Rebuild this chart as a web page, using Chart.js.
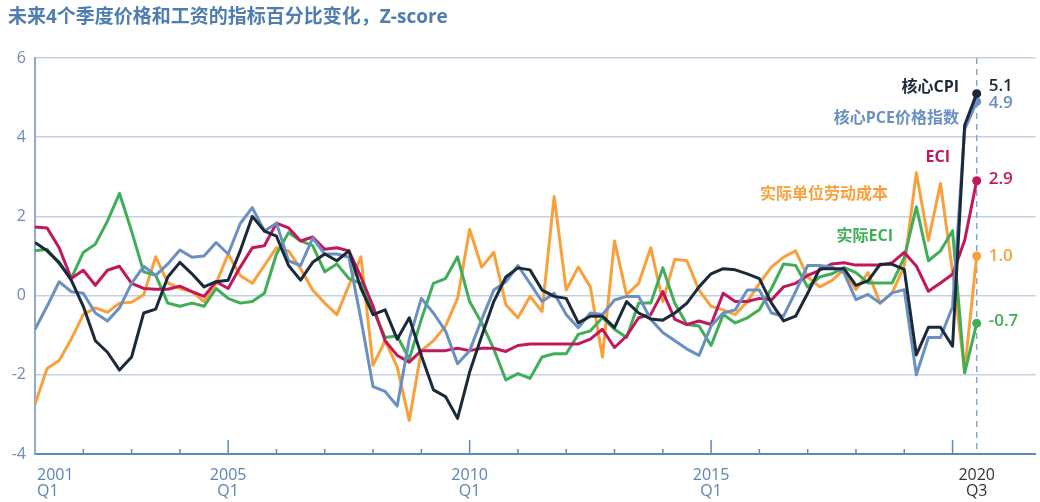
<!DOCTYPE html>
<html><head><meta charset="utf-8">
<script src="https://cdn.jsdelivr.net/npm/chart.js@4.4.0/dist/chart.umd.min.js"></script>
<style>html,body{margin:0;padding:0;background:#fff;}#wrap{width:1040px;height:502px;position:relative;}</style>
</head><body><div id="wrap"><canvas id="c"></canvas></div>
<script>
const quarters = ['2001Q1','2001Q2','2001Q3','2001Q4','2002Q1','2002Q2','2002Q3','2002Q4','2003Q1','2003Q2','2003Q3','2003Q4','2004Q1','2004Q2','2004Q3','2004Q4','2005Q1','2005Q2','2005Q3','2005Q4','2006Q1','2006Q2','2006Q3','2006Q4','2007Q1','2007Q2','2007Q3','2007Q4','2008Q1','2008Q2','2008Q3','2008Q4','2009Q1','2009Q2','2009Q3','2009Q4','2010Q1','2010Q2','2010Q3','2010Q4','2011Q1','2011Q2','2011Q3','2011Q4','2012Q1','2012Q2','2012Q3','2012Q4','2013Q1','2013Q2','2013Q3','2013Q4','2014Q1','2014Q2','2014Q3','2014Q4','2015Q1','2015Q2','2015Q3','2015Q4','2016Q1','2016Q2','2016Q3','2016Q4','2017Q1','2017Q2','2017Q3','2017Q4','2018Q1','2018Q2','2018Q3','2018Q4','2019Q1','2019Q2','2019Q3','2019Q4','2020Q1','2020Q2','2020Q3'];

const coreCPI = [1.34,1.13,0.84,0.39,-0.27,-1.14,-1.43,-1.88,-1.55,-0.44,-0.34,0.47,0.84,0.55,0.22,0.35,0.39,1.13,2.0,1.63,1.5,0.76,0.39,0.84,1.05,0.88,1.13,0.18,-0.48,-0.36,-1.1,-0.56,-1.51,-2.38,-2.55,-3.1,-1.93,-1.02,-0.15,0.47,0.7,0.65,0.14,-0.02,-0.07,-0.69,-0.52,-0.52,-0.81,-0.15,-0.44,-0.59,-0.62,-0.44,-0.19,0.22,0.55,0.68,0.65,0.55,0.43,-0.19,-0.64,-0.52,0.06,0.68,0.68,0.68,0.26,0.37,0.79,0.79,0.66,-1.5,-0.8,-0.8,-1.28,4.3,5.1];
const corePCE = [-0.85,-0.27,0.35,0.1,0.06,-0.44,-0.64,-0.31,0.31,0.74,0.51,0.8,1.15,0.97,1.0,1.34,1.05,1.82,2.22,1.63,1.83,0.88,0.76,1.45,1.05,1.05,0.97,-0.6,-2.3,-2.42,-2.79,-1.1,-0.07,-0.44,-0.89,-1.72,-1.39,-0.6,0.14,0.35,0.76,0.31,-0.15,0.06,-0.48,-0.81,-0.44,-0.48,-0.11,-0.02,-0.02,-0.6,-0.93,-1.14,-1.35,-1.51,-0.77,-0.44,-0.36,0.14,0.14,-0.44,-0.52,0.1,0.76,0.76,0.72,0.58,-0.1,0.03,-0.19,0.07,0.15,-2.0,-1.06,-1.06,-0.28,4.2,4.9];
const eci = [1.73,1.71,1.21,0.43,0.64,0.26,0.64,0.74,0.31,0.18,0.16,0.16,0.24,0.1,-0.02,0.35,0.18,0.72,1.21,1.26,1.83,1.71,1.38,1.48,1.17,1.21,1.13,0.47,-0.27,-1.14,-1.51,-1.68,-1.39,-1.39,-1.39,-1.33,-1.39,-1.33,-1.33,-1.41,-1.26,-1.22,-1.22,-1.22,-1.22,-1.22,-1.1,-0.85,-1.31,-1.02,-0.56,-0.48,0.1,-0.6,-0.73,-0.64,-0.73,0.06,-0.15,-0.15,-0.07,-0.11,0.22,0.31,0.51,0.64,0.8,0.83,0.77,0.77,0.77,0.83,1.09,0.75,0.11,0.32,0.54,1.39,2.9];
const realECI = [1.13,1.17,0.8,0.43,1.09,1.3,1.88,2.58,1.63,0.6,0.51,-0.19,-0.27,-0.19,-0.27,0.18,-0.07,-0.19,-0.15,0.06,1.05,1.59,1.38,1.26,0.6,0.8,0.43,0.31,-0.36,-1.06,-1.02,-1.6,-0.6,0.31,0.43,0.98,-0.15,-0.69,-1.35,-2.13,-1.97,-2.09,-1.55,-1.47,-1.47,-0.98,-0.89,-0.56,-0.85,-1.06,-0.19,-0.19,0.7,-0.2,-0.73,-0.77,-1.26,-0.48,-0.69,-0.56,-0.36,0.18,0.8,0.76,0.22,0.47,0.55,0.71,0.58,0.32,0.32,0.32,0.96,2.24,0.88,1.13,1.64,-1.95,-0.7];
const realULC = [-2.75,-1.84,-1.64,-1.1,-0.48,-0.31,-0.42,-0.19,-0.17,0.02,0.98,0.32,0.18,0.1,-0.15,0.31,1.05,0.51,0.31,0.76,1.21,1.13,0.68,0.14,-0.19,-0.48,0.26,0.98,-1.76,-1.14,-1.8,-3.15,-1.39,-1.14,-0.77,-0.07,1.67,0.72,1.09,-0.23,-0.56,-0.02,-0.4,2.5,0.14,0.72,0.22,-1.55,1.38,0.02,0.31,1.21,-0.15,0.92,0.88,0.14,-0.27,-0.36,-0.48,-0.15,0.31,0.72,0.97,1.13,0.47,0.22,0.38,0.66,0.15,0.58,-0.19,0.07,0.75,3.1,1.39,2.83,0.6,-1.9,1.0];

const seriesNames = ['核心CPI','核心PCE价格指数','ECI','实际ECI','实际单位劳动成本'];
const yTicks = [-4,-2,0,2,4,6];
const xTickIndex = [0,16,36,56,78];
const xTickYear = ['2001','2005','2010','2015','2020'];
const xTickQuarter = ['Q1','Q1','Q1','Q1','Q3'];
const endLabels = ['5.1','4.9','2.9','-0.7','1.0'];
const titleText = '未来4个季度价格和工资的指标百分比变化，Z-score';

const COLORS = ['#1b2a3a','#6a90c1','#c2185b','#3fae57','#f9a03c'];
const FONT = "'Open Sans','Noto Sans CJK SC',sans-serif";
const last = quarters.length - 1;

const allSeries = [coreCPI, corePCE, eci, realECI, realULC];
const datasets = allSeries.map((arr, k) => ({
  label: seriesNames[k],
  data: arr.map((v, i) => ({x: i, y: v})),
  borderColor: COLORS[k],
  backgroundColor: COLORS[k],
  borderWidth: 3,
  tension: 0,
  borderJoinStyle: 'round',
  pointRadius: ctx => ctx.dataIndex === last ? 4.5 : 0,
  pointBorderWidth: 0,
  pointHoverRadius: 0
}));

const nameLabelPos = [
  {x: 959, y: 87, align: 'right'},
  {x: 959, y: 118, align: 'right'},
  {x: 950, y: 157, align: 'right'},
  {x: 893, y: 236, align: 'right'},
  {x: 888, y: 194, align: 'right'}
];
const endLabelDy = [-7, 2, -2, -2, 0];

const overlay = {
  id: 'overlay',
  beforeDatasetsDraw(chart) {
    const {ctx, chartArea, scales: {x}} = chart;
    ctx.save();
    const px = x.getPixelForValue(last);
    ctx.strokeStyle = '#86a6c9';
    ctx.lineWidth = 1.5;
    ctx.setLineDash([6, 5]);
    ctx.beginPath();
    ctx.moveTo(px, chartArea.top);
    ctx.lineTo(px, chartArea.bottom);
    ctx.stroke();
    ctx.setLineDash([]);
    ctx.strokeStyle = '#5f8ab8';
    ctx.lineWidth = 1.5;
    for (let q = 4; q <= last; q += 4) {
      const tx = x.getPixelForValue(q);
      const len = (q === 16 || q === 36 || q === 56 || q === 76) ? 14 : 5;
      ctx.beginPath();
      ctx.moveTo(tx, chartArea.bottom);
      ctx.lineTo(tx, chartArea.bottom - len);
      ctx.stroke();
    }
    ctx.restore();
  },
  afterDraw(chart) {
    const {ctx, chartArea, scales: {x, y}} = chart;
    ctx.save();
    ctx.font = "bold 19px " + FONT;
    ctx.fillStyle = '#4f7db0';
    ctx.textAlign = 'left';
    ctx.textBaseline = 'middle';
    ctx.fillText(titleText, 8, 18);
    ctx.font = "16px " + FONT;
    xTickIndex.forEach((q, k) => {
      const tx = x.getPixelForValue(q);
      const isLast = k === xTickIndex.length - 1;
      ctx.fillStyle = isLast ? '#333333' : '#5a84b3';
      ctx.textAlign = k === 0 ? 'left' : 'center';
      const lx = k === 0 ? tx + 2 : tx;
      ctx.fillText(xTickYear[k], lx, chartArea.bottom + 21);
      ctx.fillText(xTickQuarter[k], lx, chartArea.bottom + 37);
    });
    ctx.font = "bold 16px " + FONT;
    seriesNames.forEach((n, k) => {
      const p = nameLabelPos[k];
      ctx.fillStyle = COLORS[k];
      ctx.textAlign = p.align;
      ctx.fillText(n, p.x, p.y);
    });
    ctx.font = "600 17px " + FONT;
    ctx.textAlign = 'left';
    allSeries.forEach((arr, k) => {
      const px = x.getPixelForValue(last) + 12;
      const py = y.getPixelForValue(arr[last]) + endLabelDy[k];
      ctx.fillStyle = COLORS[k];
      ctx.fillText(endLabels[k], px, py);
    });
    ctx.restore();
  }
};

new Chart(document.getElementById('c'), {
  type: 'line',
  data: {datasets},
  options: {
    responsive: true,
    maintainAspectRatio: false,
    animation: false,
    events: [],
    layout: {padding: {top: 58, right: 0, bottom: 0, left: 0}},
    plugins: {legend: {display: false}, tooltip: {enabled: false}, title: {display: false}},
    scales: {
      x: {
        type: 'linear',
        min: 0,
        max: 82.87,
        afterFit: s => { s.height = 48; },
        grid: {display: false},
        border: {display: true, color: '#5f8ab8', width: 2},
        ticks: {display: false}
      },
      y: {
        min: -4,
        max: 6,
        afterFit: s => { s.width = 35; },
        afterBuildTicks: s => { s.ticks = yTicks.map(v => ({value: v})); },
        grid: {color: '#c3d2e3', lineWidth: 1.5, drawTicks: false},
        border: {display: true, color: '#8eabcb', width: 2},
        ticks: {color: '#6b8db5', padding: 9, font: {size: 16, family: FONT}}
      }
    }
  },
  plugins: [overlay]
});
</script>
</body></html>
